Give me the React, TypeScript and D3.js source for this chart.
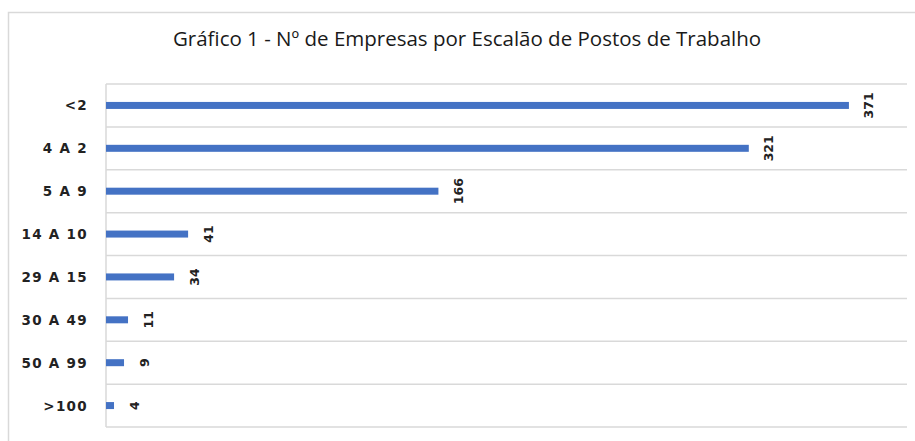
import * as d3 from "d3";

const categories = ["<2", "4 A 2", "5 A 9", "14 A 10", "29 A 15", "30 A 49", "50 A 99", ">100"];
const values = [371, 321, 166, 41, 34, 11, 9, 4];
const title = "Gráfico 1 - Nº de Empresas por Escalão de Postos de Trabalho";

const W = 915;
const H = 441;
const plot = { left: 106, right: 907, top: 84, bottom: 427 };

export default function App() {
  const x = d3.scaleLinear().domain([0, 400]).range([plot.left, plot.right]);
  const y = d3.scaleBand<string>().domain(categories).range([plot.top, plot.bottom]);
  const barH = 7;
  const gridYs = [...categories.map((c) => y(c) as number), plot.bottom];

  return (
    <>
      <style>{"body{margin:0}"}</style>
      <svg width={W} height={H} style={{ display: "block", background: "#fff" }}>
        {/* outer frame */}
        <rect x={8.5} y={12.5} width={W} height={H} fill="none" stroke="#d9d9d9" strokeWidth={1.5} />

        <text
          x={467}
          y={46}
          textAnchor="middle"
          fontFamily="'Open Sans', sans-serif"
          fontSize={20.5}
          fill="#1a1a1a"
        >
          {title}
        </text>

        {/* gridlines between categories */}
        {gridYs.map((gy, i) => (
          <line key={i} x1={plot.left} x2={plot.right} y1={gy} y2={gy} stroke="#d9d9d9" strokeWidth={1.5} />
        ))}
        <line x1={plot.left} x2={plot.left} y1={plot.top} y2={plot.bottom} stroke="#d9d9d9" strokeWidth={1.5} />

        {categories.map((c, i) => {
          const cy = (y(c) as number) + y.bandwidth() / 2;
          const end = x(values[i]);
          return (
            <g key={c}>
              <rect x={x(0)} y={cy - barH / 2} width={end - x(0)} height={barH} fill="#4472c4" />
              <text
                x={88}
                y={cy}
                textAnchor="end"
                dominantBaseline="central"
                fontFamily="'DejaVu Sans', sans-serif"
                fontWeight="bold"
                fontSize={13.5}
                letterSpacing={1.3}
                fill="#222"
              >
                {c}
              </text>
              <text
                transform={`translate(${end + 20},${cy}) rotate(-90)`}
                textAnchor="middle"
                dominantBaseline="central"
                fontFamily="'DejaVu Sans', sans-serif"
                fontWeight="bold"
                fontSize={12.5}
                fill="#222"
              >
                {values[i]}
              </text>
            </g>
          );
        })}
      </svg>
    </>
  );
}
